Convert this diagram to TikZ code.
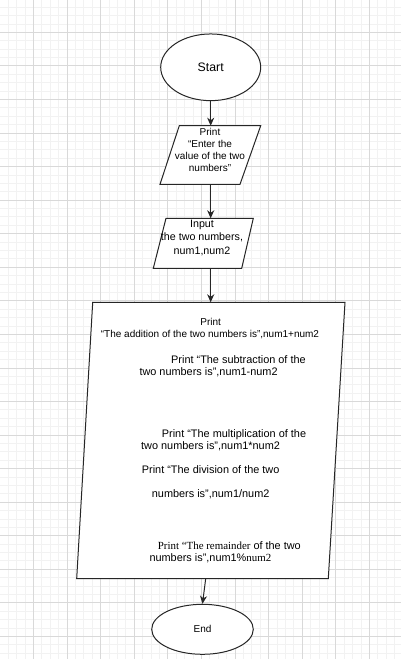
\documentclass[tikz,border=0pt]{standalone}
\usepackage{fontspec}
\setmainfont{Liberation Sans}
\newfontfamily\tmsfont{Liberation Serif}
\usetikzlibrary{shapes.geometric,arrows.meta}
\begin{document}
\begin{tikzpicture}[x=1pt,y=-1pt,
  minorgrid/.style={draw=black!5,line width=0.8pt},
  majorgrid/.style={draw=black!15,line width=0.8pt},
  shapeline/.style={draw=black!85,line width=1pt},
  term/.style={ellipse,shapeline,fill=white,inner sep=0pt},
  flow/.style={shapeline,-{Stealth[length=8pt,width=7pt,inset=2.5pt]}},
  txt/.style={inner sep=0pt,text=black},
  bigtxt/.style={txt,anchor=base west,font=\fontsize{10.9}{13}\selectfont},
  ]
\useasboundingbox (0,0) rectangle (401,659);
\fill[white] (0,0) rectangle (401,659);
\begin{scope}
\clip (0,0) rectangle (401,659);
\foreach \i in {0,...,48} \draw[minorgrid] ({-0.3+\i*8.4},0) -- ({-0.3+\i*8.4},659);
\foreach \i in {0,...,79} \draw[minorgrid] (0,{-1.26+\i*8.39}) -- (401,{-1.26+\i*8.39});
\foreach \i in {0,...,12} \draw[majorgrid] ({-0.3+\i*33.6},0) -- ({-0.3+\i*33.6},659);
\foreach \i in {0,...,20} \draw[majorgrid] (0,{-1.26+\i*33.56}) -- (401,{-1.26+\i*33.56});
\end{scope}

% Start
\node[term,minimum width=100pt,minimum height=66.7pt,font=\fontsize{12.3}{14}\selectfont] (start) at (210.7,67.3) {Start};

% Parallelogram 1
\draw[shapeline,fill=white] (179.3,125.7) -- (260.7,125.7) -- (240,184.3) -- (160,184.3) -- cycle;
\coordinate (p1top) at (210.7,125.7);
\coordinate (p1bot) at (210.7,184.3);
\node[txt,align=center,font=\fontsize{10}{12}\selectfont] (p1text) at (210,150) {Print\\“Enter the\\value of the two\\numbers”};

% Parallelogram 2
\draw[shapeline,fill=white] (166,218.3) -- (253.3,218.3) -- (241.7,268.3) -- (153.3,268.3) -- cycle;
\coordinate (p2top) at (210.7,218.3);
\coordinate (p2bot) at (210.7,268.3);
\node[txt,align=center,font=\fontsize{10.7}{13.3}\selectfont] (p2text) at (202,237.8) {Input\\the two numbers,\\num1,num2};

% Big output shape
\draw[shapeline,fill=white] (92.7,302.3) -- (345,302.3) -- (328.3,578.5) -- (76.7,578.5) -- cycle;
\coordinate (bigtop) at (210.7,302.3);
\coordinate (bigbot) at (205.7,578.5);

\node[txt,anchor=base,font=\fontsize{10}{12}\selectfont] (t1) at (210.7,325.3) {Print};
\node[txt,anchor=base,font=\fontsize{10}{12}\selectfont] (t2) at (210,337.6) {“The addition of the two numbers is”,num1+num2};
\node[bigtxt] (t3) at (171,363.2) {Print “The subtraction of the};
\node[bigtxt] (t4) at (139.3,375.6) {two numbers is”,num1-num2};
\node[bigtxt] (t5) at (161.7,437.2) {Print “The multiplication of the};
\node[bigtxt] (t6) at (141,449.9) {two numbers is”,num1*num2};
\node[bigtxt] (t7) at (141.7,473.9) {Print “The division of the two};
\node[bigtxt] (t8) at (151.7,497.2) {numbers is”,num1/num2};
\node[bigtxt] (t9) at (157.7,549.2) {{\tmsfont Print “The remainder} of the two};
\node[bigtxt] (t10) at (149.3,561.9) {numbers is”,num1\%{\tmsfont num2}};

% End
\node[term,minimum width=101.6pt,minimum height=50pt,font=\fontsize{10}{12}\selectfont] (end) at (202.5,629.3) {End};

% Connectors
\draw[flow] (start) -- (p1top);
\draw[flow] (p1bot) -- (p2top);
\draw[flow] (p2bot) -- (bigtop);
\draw[flow] (bigbot) -- (end.north);
\end{tikzpicture}
\end{document}
